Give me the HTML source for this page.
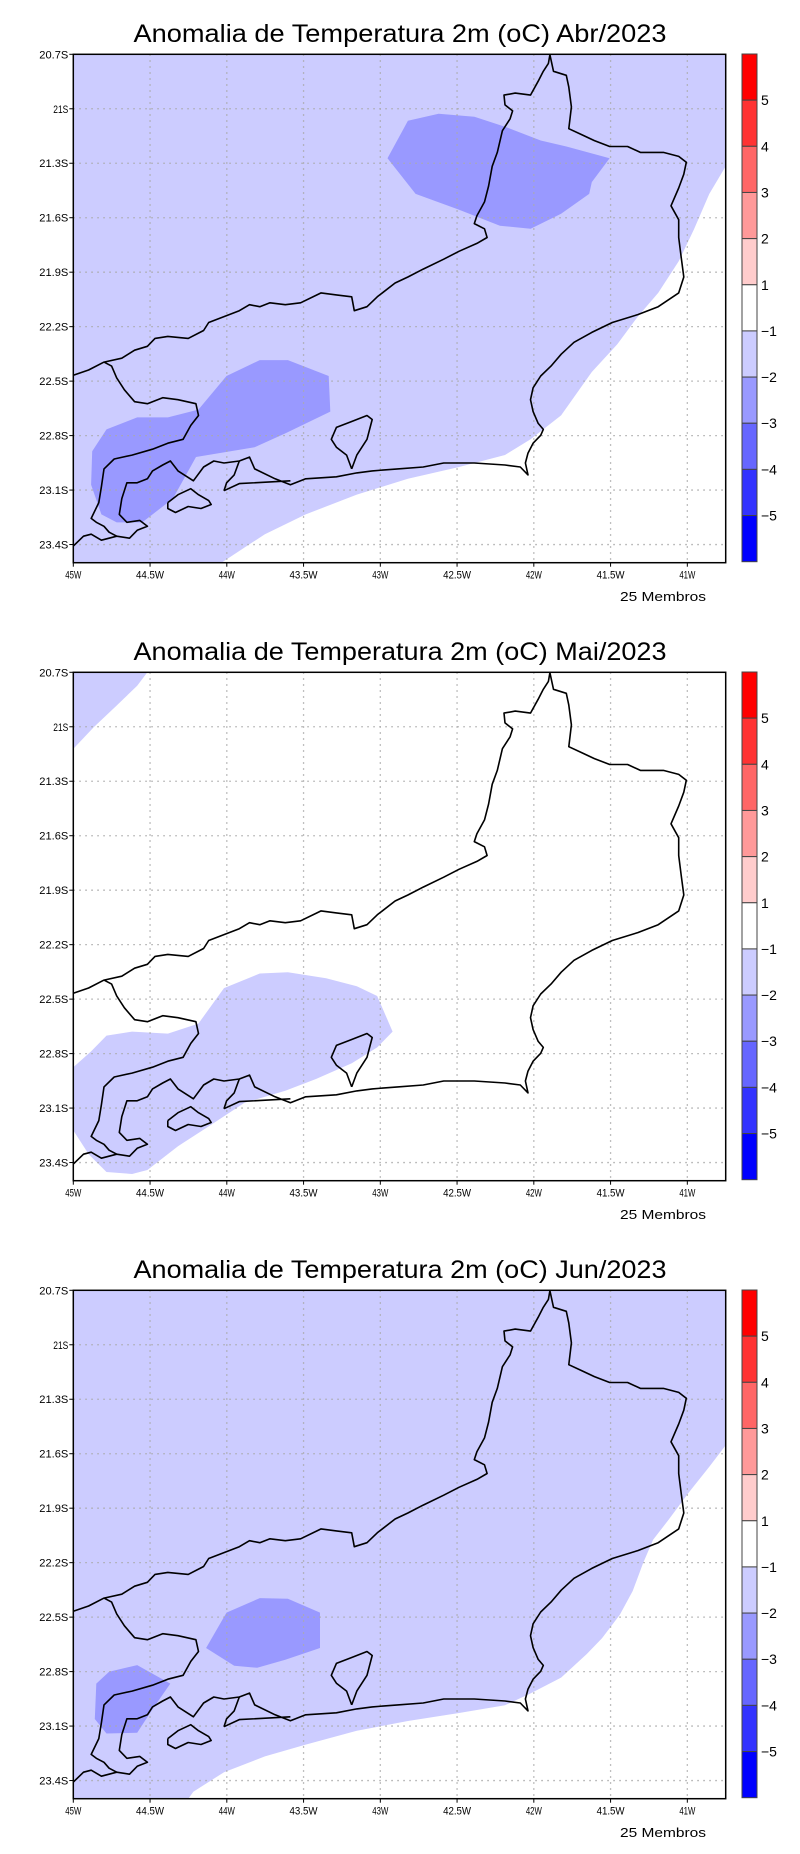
<!DOCTYPE html>
<html><head><meta charset="utf-8"><style>
html,body{margin:0;padding:0;background:#fff;}
svg{display:block;}
</style></head><body>
<svg id="chart" width="800" height="1854" viewBox="0 0 800 1854" xmlns="http://www.w3.org/2000/svg" font-family="Liberation Sans, sans-serif"></svg>
<script>
// ---- data ----
const panelTitles = ["Anomalia de Temperatura 2m (oC) Abr/2023","Anomalia de Temperatura 2m (oC) Mai/2023","Anomalia de Temperatura 2m (oC) Jun/2023"];
const latTicks = [20.7,21,21.3,21.6,21.9,22.2,22.5,22.8,23.1,23.4];
const lonTicks = [45,44.5,44,43.5,43,42.5,42,41.5,41];
const levelLabels = ["5","4","3","2","1","−1","−2","−3","−4","−5"];
const levelColors = ["#ff0000","#ff3333","#ff6666","#ff9999","#ffcccc","#ffffff","#ccccff","#9999ff","#6666ff","#3333ff","#0000ff"];
// Abr: light (-1..-2) region boundary (coast side of the white area), and -2..-3 regions
const abrLightLon = [-45,-40.75,-40.75,-40.857,-40.957,-41.056,-41.19,-41.323,-41.456,-41.622,-41.822,-42.021,-42.188,-42.487,-42.82,-43.153,-43.486,-43.752,-44.035,-45];
const abrLightLat = [-20.7,-20.7,-21.317,-21.469,-21.665,-21.84,-22.014,-22.145,-22.297,-22.45,-22.689,-22.82,-22.907,-22.973,-23.038,-23.125,-23.234,-23.343,-23.5,-23.5];
const abrMedALon = [-42.82,-42.62,-42.387,-42.188,-41.955,-41.788,-41.506,-41.622,-41.639,-41.822,-42.021,-42.221,-42.487,-42.77,-42.953];
const abrMedALat = [-21.066,-21.027,-21.044,-21.099,-21.175,-21.208,-21.273,-21.404,-21.469,-21.578,-21.661,-21.644,-21.556,-21.469,-21.273];
const abrMedBLon = [-44.002,-43.785,-43.602,-43.336,-43.326,-43.619,-43.819,-44.201,-44.351,-44.551,-44.717,-44.817,-44.884,-44.877,-44.784,-44.584,-44.384,-44.185];
const abrMedBLat = [-22.472,-22.384,-22.384,-22.472,-22.668,-22.788,-22.864,-22.918,-23.147,-23.278,-23.278,-23.234,-23.071,-22.886,-22.766,-22.7,-22.7,-22.657];
// Mai: -1..-2 regions
const maiLightALon = [-45,-44.517,-44.584,-44.717,-44.867,-45];
const maiLightALat = [-20.7,-20.7,-20.774,-20.883,-21.003,-21.122];
const maiLightBLon = [-45,-44.884,-44.784,-44.617,-44.384,-44.185,-44.018,-43.785,-43.602,-43.353,-43.153,-43.02,-42.92,-43.02,-43.186,-43.419,-43.619,-43.885,-44.118,-44.318,-44.517,-44.617,-44.784,-44.9,-45];
const maiLightBLat = [-22.875,-22.788,-22.701,-22.679,-22.69,-22.635,-22.439,-22.359,-22.352,-22.385,-22.429,-22.483,-22.679,-22.766,-22.853,-22.94,-23.005,-23.071,-23.201,-23.31,-23.441,-23.463,-23.452,-23.354,-23.223];
// Jun
const junLightLon = [-45,-40.75,-40.75,-40.857,-40.99,-41.123,-41.223,-41.289,-41.356,-41.439,-41.556,-41.655,-41.822,-42.021,-42.188,-42.487,-42.82,-43.153,-43.486,-43.752,-44.018,-44.218,-44.251,-45];
const junLightLat = [-20.7,-20.7,-21.553,-21.672,-21.813,-21.965,-22.074,-22.204,-22.356,-22.486,-22.616,-22.703,-22.833,-22.92,-22.985,-23.028,-23.072,-23.126,-23.202,-23.267,-23.354,-23.462,-23.5,-23.5];
const junMedALon = [-44.002,-43.785,-43.602,-43.393,-43.393,-43.619,-43.802,-43.952,-44.135];
const junMedALat = [-22.475,-22.395,-22.399,-22.475,-22.67,-22.735,-22.779,-22.768,-22.67];
const junMedBLon = [-44.85,-44.767,-44.584,-44.368,-44.484,-44.584,-44.784,-44.86];
const junMedBLat = [-22.866,-22.801,-22.764,-22.866,-23.007,-23.137,-23.141,-23.061];

// basemap outline (reference-map units)
const stateOutline = [[145,948],[175,935],[205,915],[240,905],[265,885],[290,875],[305,855],[330,850],[370,855],[400,835],[410,815],[440,800],[470,785],[490,770],[510,775],[530,765],[560,770],[590,765],[630,740],[660,745],[690,750],[695,785],[720,775],[740,750],[775,715],[800,700],[830,680],[870,655],[900,635],[935,615],[955,600],[950,578],[930,565],[935,545],[950,510],[958,470],[965,420],[975,385],[985,330],[1000,300],[1005,280],[990,265],[988,240],[1010,235],[1040,240],[1055,205],[1065,180],[1075,160],[1078,138],[1085,180],[1110,190],[1115,220],[1120,270],[1115,325],[1140,340],[1165,355],[1195,370],[1230,370],[1255,385],[1300,385],[1330,395],[1345,410],[1340,440],[1330,475],[1315,520],[1330,555],[1330,600],[1335,650],[1340,700],[1330,740],[1290,775],[1250,795],[1200,815],[1160,840],[1125,865],[1100,895],[1080,925],[1060,950],[1045,980],[1040,1010],[1045,1040],[1055,1070],[1065,1085],[1060,1100],[1045,1120],[1035,1145],[1030,1170],[1035,1200],[1020,1180],[990,1175],[930,1170],[870,1170],[830,1180],[780,1185],[730,1190],[700,1195],[660,1205],[600,1210],[570,1225],[540,1210],[500,1185],[490,1155],[470,1165],[440,1170],[420,1165],[400,1180],[380,1215],[350,1190],[335,1165],[320,1175],[300,1190],[290,1210],[270,1220],[250,1220],[240,1260],[235,1300],[250,1320],[275,1315],[290,1330],[270,1340],[255,1360],[230,1355],[200,1365],[180,1350],[165,1355],[145,1380]];
const spBorder = [[205,915],[220,925],[230,955],[245,985],[265,1015],[290,1020],[320,1005],[350,1010],[385,1020],[390,1050],[375,1075],[360,1110],[330,1120],[300,1135],[260,1150],[225,1160],[205,1185],[200,1230],[195,1270],[180,1310],[190,1320],[205,1330],[215,1345],[230,1355]];
const guanabara = [[690,1185],[680,1150],[660,1130],[650,1110],[660,1080],[690,1065],[720,1050],[730,1060],[720,1110],[700,1150],[690,1185]];
const ilhaGrande = [[330,1270],[350,1250],[375,1235],[390,1250],[410,1265],[415,1275],[395,1285],[370,1280],[345,1295],[330,1285],[330,1270]];
const marambaia = [[440,1240],[470,1222],[570,1215]];
const sepetiba = [[440,1240],[445,1220],[460,1200],[470,1165]];

const svg = document.getElementById('chart');
const NS = 'http://www.w3.org/2000/svg';
const X0 = 73.3, XR = 725.7, YT = 54.3, YB = 562.7;
const LONW = -45, LONE = -40.75, LATN = -20.7, LATS = -23.5;
function xs(lon){ return X0 + (lon - LONW) / (LONE - LONW) * (XR - X0); }
function ys(lat, off){ return off + YT + (LATN - lat) / (LATN - LATS) * (YB - YT); }
function mapLon(px){ return -45 + (px - 145) * 0.003328; }
function mapLat(py){ return -20.7 - (py - 137) * 0.002179; }
function mk(tag, attrs, parent){ const e = document.createElementNS(NS, tag); for (const k in attrs) e.setAttribute(k, attrs[k]); (parent||svg).appendChild(e); return e; }
function polyPts(lons, lats, off){ return lons.map((l,i)=> xs(l).toFixed(1)+','+ys(lats[i],off).toFixed(1)).join(' '); }
function mapPts(arr, off){ return arr.map(p=> xs(mapLon(p[0])).toFixed(1)+','+ys(mapLat(p[1]),off).toFixed(1)).join(' '); }

const panels = [
  {fills:[[abrLightLon,abrLightLat,'#ccccff','anomaly-region-minus1-to-minus2'],[abrMedALon,abrMedALat,'#9999ff','anomaly-region-minus2-to-minus3-north'],[abrMedBLon,abrMedBLat,'#9999ff','anomaly-region-minus2-to-minus3-south']]},
  {fills:[[maiLightALon,maiLightALat,'#ccccff','anomaly-region-minus1-to-minus2-northwest'],[maiLightBLon,maiLightBLat,'#ccccff','anomaly-region-minus1-to-minus2-south']]},
  {fills:[[junLightLon,junLightLat,'#ccccff','anomaly-region-minus1-to-minus2'],[junMedALon,junMedALat,'#9999ff','anomaly-region-minus2-to-minus3-center'],[junMedBLon,junMedBLat,'#9999ff','anomaly-region-minus2-to-minus3-west']]}
];
const offsets = [0, 618, 1236];

panels.forEach((p, pi) => {
  const off = offsets[pi];
  const g = mk('g', {});
  
  
  const t = mk('text', {x: 400, y: off + 42, 'text-anchor':'middle', 'font-size':25, textLength:533, lengthAdjust:'spacingAndGlyphs', fill:'#000'}, g);
  t.textContent = panelTitles[pi];
  
  
  // fills
  p.fills.forEach(f => {
    const poly = mk('polygon', {points: polyPts(f[0], f[1], off), fill: f[2]}, g);
    
    
  });
  // grid
  latTicks.forEach(v => {
    const y = ys(-v, off);
    if (v > 20.75) {
      const l = mk('line', {x1:X0, x2:XR, y1:y, y2:y, stroke:'#aaa', 'stroke-width':1.3, 'stroke-dasharray':'1.5 4.5'}, g);
      
      
    }
    mk('line', {x1:X0-4, x2:X0, y1:y, y2:y, stroke:'#000', 'stroke-width':1}, g);
    const tx = mk('text', {x:X0-5, y:y+4, 'text-anchor':'end', 'font-size':11, fill:'#000', textLength: (v===21?15:29), lengthAdjust:'spacingAndGlyphs'}, g);
    tx.textContent = (v === 21 ? '21' : v.toFixed(1)) + 'S';
    
    
  });
  lonTicks.forEach(v => {
    const x = xs(-v);
    if (v < 44.95) {
      const l = mk('line', {x1:x, x2:x, y1:off+YT, y2:off+YB, stroke:'#aaa', 'stroke-width':1.3, 'stroke-dasharray':'1.5 4.5'}, g);
      
      
    }
    mk('line', {x1:x, x2:x, y1:off+YB, y2:off+YB+4, stroke:'#000', 'stroke-width':1}, g);
    const isInt = Number.isInteger(v);
    const tx = mk('text', {x:x, y:off+YB+16, 'text-anchor':'middle', 'font-size':11, fill:'#000', textLength: isInt?16:28, lengthAdjust:'spacingAndGlyphs'}, g);
    tx.textContent = (isInt ? v : v.toFixed(1)) + 'W';
    
    
  });
  // basemap
  [[stateOutline,'state-boundary'],[spBorder,'sp-border'],[guanabara,'guanabara-bay'],[ilhaGrande,'ilha-grande'],[marambaia,'marambaia-sandbar'],[sepetiba,'sepetiba-coast']].forEach(b => {
    const pl = mk('polyline', {points: mapPts(b[0], off), fill:'none', stroke:'#000', 'stroke-width':1.6, 'stroke-linejoin':'round'}, g);
    
    
  });
  // frame
  const fr = mk('rect', {x:X0, y:off+YT, width:XR-X0, height:YB-YT, fill:'none', stroke:'#000', 'stroke-width':1.5}, g);
  
  
  // members note
  const m = mk('text', {x:706, y:off+601, 'text-anchor':'end', 'font-size':13, fill:'#000', textLength:86, lengthAdjust:'spacingAndGlyphs'}, g);
  m.textContent = '25 Membros';
  
  
  // colorbar
  const cb = mk('g', {}, g);
  
  
  const cbX = 742, cbW = 15, cbT = off + 54, cbH = 507.7, segH = cbH / levelColors.length;
  levelColors.forEach((c, i) => {
    const r = mk('rect', {x:cbX, y:cbT + i*segH, width:cbW, height:segH, fill:c, stroke:'#444', 'stroke-width':1}, cb);
    
    
  });
  levelLabels.forEach((s, i) => {
    const tx = mk('text', {x:cbX+cbW+4, y:cbT + (i+1)*segH + 5, 'font-size':14, fill:'#000'}, cb);
    tx.textContent = s;
    
    
  });
});
</script>
</body></html>
